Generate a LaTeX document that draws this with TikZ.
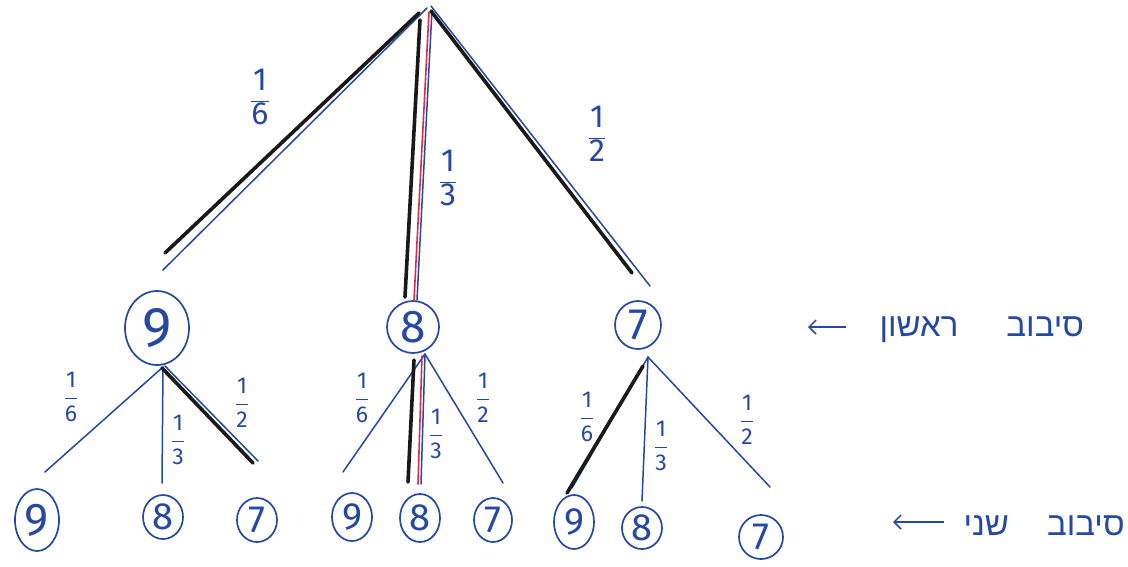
\documentclass[tikz,border=0pt]{standalone}
\usepackage{fontspec}
\setmainfont{Fira Sans}
\newfontfamily\hebfont[Script=Hebrew]{Liberation Sans}
\TeXXeTstate=1
\usetikzlibrary{shapes.geometric,arrows.meta}
\definecolor{ink}{RGB}{38,72,165}
\definecolor{redink}{RGB}{225,40,70}
\newcommand\myfrac[2]{$\displaystyle\frac{\mbox{#1}}{\mbox{#2}}$}
\tikzset{
  bl/.style={draw=ink, line width=1.5pt, line cap=round},
  hl/.style={draw=black!90, line width=3.6pt, line cap=round},
  rl/.style={draw=redink, line width=1.6pt, line cap=round},
  num/.style={draw=ink, ellipse, line width=1.7pt, text=ink, inner sep=0pt},
  leaf/.style={num, font=\fontsize{38}{38}\selectfont},
  fracA/.style={text=ink, font=\fontsize{32}{32}\selectfont, inner sep=0pt},
  fracB/.style={text=ink, font=\fontsize{23}{23}\selectfont, inner sep=0pt},
  heb/.style={text=ink, font=\hebfont\fontsize{33}{33}\selectfont},
  arr/.style={draw=ink, line width=1.5pt, ->, >={Straight Barb[length=7pt,width=14pt]}},
}
\begin{document}
\begin{tikzpicture}[x=1pt,y=-1pt]
\fill[white] (0,0) rectangle (1128,566);
\useasboundingbox (0,0) rectangle (1128,566);

% root
\coordinate (root) at (431,6);

% level 1 nodes
\node[num, font=\fontsize{56}{56}\selectfont, minimum width=64pt, minimum height=74pt] (a9) at (157,328) {9};
\node[num, font=\fontsize{46}{46}\selectfont, minimum width=52pt, minimum height=52pt] (a8) at (413,327) {8};
\node[num, font=\fontsize{44}{44}\selectfont, minimum width=46pt, minimum height=48pt] (a7) at (638,325) {7};

% top edge endpoints
\coordinate (t9) at (163,270);
\coordinate (t8) at (416,300);
\coordinate (t7) at (650,286);

% top edges
\draw[bl] ([shift={(-4,2)}]root) -- (t9);
\draw[hl] ([shift={(-12,7)}]root) -- ([shift={(2,-17)}]t9);
\draw[bl] ([shift={(1,4)}]root) -- ([shift={(1,0)}]t8);
\draw[rl] ([shift={(-2,6)}]root) -- ([shift={(-2,0)}]t8);
\draw[hl] ([shift={(-11,14)}]root) -- ([shift={(-11,-3)}]t8);
\draw[bl] (root) -- (t7);
\draw[hl] ([shift={(0,5)}]root) -- ([shift={(-18,-13)}]t7);

% top labels
\node[fracA] (f1) at (260,97) {\myfrac{1}{6}};
\node[fracA] (f2) at (448,178) {\myfrac{1}{3}};
\node[fracA] (f3) at (597,134) {\myfrac{1}{2}};

% branch points
\coordinate (p9) at (163,367);
\coordinate (p8) at (425,354);
\coordinate (p7) at (648,357);

% leaves
\node[leaf, minimum width=44pt, minimum height=62pt, font=\fontsize{46}{46}\selectfont] (b99) at (37,520) {9};
\node[leaf, minimum width=40pt, minimum height=44pt] (b98) at (163,517) {8};
\node[leaf, minimum width=40pt, minimum height=44pt] (b97) at (257,520) {7};
\node[leaf, minimum width=40pt, minimum height=48pt] (b89) at (352,517) {9};
\node[leaf, minimum width=40pt, minimum height=48pt] (b88) at (420,518) {8};
\node[leaf, minimum width=38pt, minimum height=44pt] (b87) at (493,520) {7};
\node[leaf, minimum width=40pt, minimum height=54pt] (b79) at (574,522) {9};
\node[leaf, minimum width=40pt, minimum height=42pt] (b78) at (642,528) {8};
\node[leaf, minimum width=44pt, minimum height=44pt] (b77) at (761,537) {7};

% leaf edge endpoints
\coordinate (e99) at (45,472);
\coordinate (e98) at (162,483);
\coordinate (e97) at (258,461);
\coordinate (e89) at (343,472);
\coordinate (e88) at (420,484);
\coordinate (e87) at (503,483);
\coordinate (e79) at (572,488);
\coordinate (e78) at (642,501);
\coordinate (e77) at (770,487);

% left subtree
\draw[bl] (p9) -- (e99);
\draw[bl] (p9) -- (e98);
\draw[bl] ([shift={(2,-1)}]p9) -- (e97);
\draw[hl] ([shift={(-1,1)}]p9) -- ([shift={(-5,2)}]e97);

% middle subtree
\draw[bl] (p8) -- (e89);
\draw[bl] (p8) -- (e87);
\draw[bl] (p8) -- ([shift={(1,0)}]e88);
\draw[rl] ([shift={(-3,2)}]p8) -- ([shift={(-2,0)}]e88);
\draw[hl] ([shift={(-11,6)}]p8) -- ([shift={(-12,-2)}]e88);

% right subtree
\draw[bl] (p7) -- (e79);
\draw[hl] ([shift={(-5,9)}]p7) -- ([shift={(-5,5)}]e79);
\draw[bl] (p7) -- (e78);
\draw[bl] (p7) -- (e77);

% level 2 labels
\node[fracB] (g1) at (71,397) {\myfrac{1}{6}};
\node[fracB] (g2) at (178,440) {\myfrac{1}{3}};
\node[fracB] (g3) at (242,403) {\myfrac{1}{2}};
\node[fracB] (g4) at (362,398) {\myfrac{1}{6}};
\node[fracB] (g5) at (436,434) {\myfrac{1}{3}};
\node[fracB] (g6) at (483,398) {\myfrac{1}{2}};
\node[fracB] (g7) at (587,417) {\myfrac{1}{6}};
\node[fracB] (g8) at (661,446) {\myfrac{1}{3}};
\node[fracB] (g9) at (747,420) {\myfrac{1}{2}};

% round labels
\node[heb, anchor=west] (r1) at (876,330) {\beginR סיבוב\hspace{48pt}ראשון\endR};
\coordinate (r1a) at (808,327);
\coordinate (r1s) at (846,327);
\draw[arr] (r1s) -- (r1a);
\node[heb, anchor=west] (r2) at (960,526) {\beginR סיבוב\hspace{38pt}שני\endR};
\coordinate (r2a) at (893,522);
\coordinate (r2s) at (944,522);
\draw[arr] (r2s) -- (r2a);
\end{tikzpicture}
\end{document}
